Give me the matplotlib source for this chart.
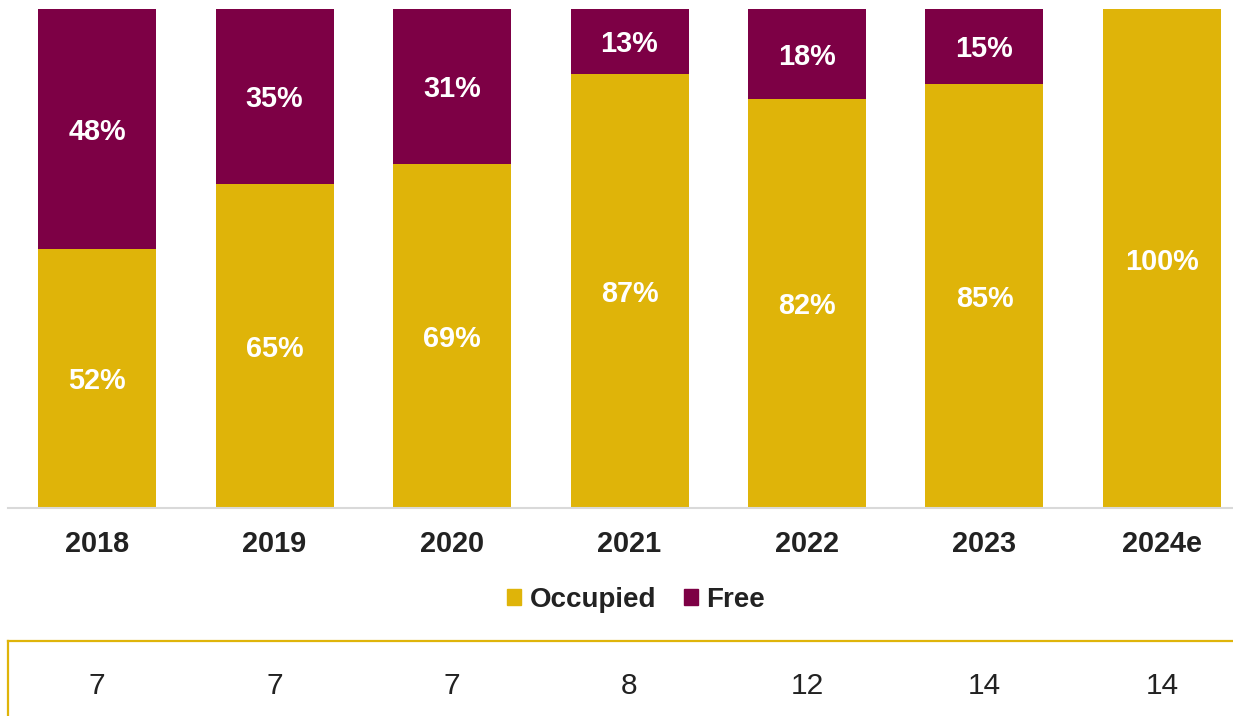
import matplotlib
matplotlib.use("Agg")
import matplotlib.pyplot as plt
from matplotlib.patches import Patch
from matplotlib.lines import Line2D

plt.rcParams['font.family'] = ['Liberation Sans', 'DejaVu Sans']

years = ["2018", "2019", "2020", "2021", "2022", "2023", "2024e"]
occupied = [52, 65, 69, 87, 82, 85, 100]
free = [48, 35, 31, 13, 18, 15, 0]
counts = [7, 7, 7, 8, 12, 14, 14]

GOLD = "#DFB409"
PLUM = "#7D0045"
TEXT = "#222222"

W, H = 1233, 716
fig = plt.figure(figsize=(W / 100, H / 100), dpi=100)

# plot area: bars from the baseline (y=508px) to 100% (y=9px)
ax = fig.add_axes([0, 1 - 508 / H, 1, 499 / H])
ax.set_xlim(-97 / 177.5, (W - 97) / 177.5)
ax.set_ylim(0, 100)

x = list(range(len(years)))
bw = 118 / 177.5
ax.bar(x, occupied, width=bw, color=GOLD, label="Occupied")
ax.bar(x, free, width=bw, bottom=occupied, color=PLUM, label="Free")

for i in x:
    ax.text(i, occupied[i] / 2, f"{occupied[i]}%", ha="center", va="center_baseline",
            color="white", fontsize=20.8, fontweight="bold")
    if free[i] > 0:
        ax.text(i, occupied[i] + free[i] / 2, f"{free[i]}%", ha="center",
                va="center_baseline", color="white", fontsize=20.8, fontweight="bold")

for s in ax.spines.values():
    s.set_visible(False)
ax.set_yticks([])
ax.set_xticks(x)
ax.set_xticklabels(years, fontsize=20.8, fontweight="bold", color=TEXT)
ax.tick_params(axis="x", length=0, pad=16)

# baseline
ax.plot([-0.5, 10], [0, 0], color="#D9D9D9", lw=1.5, clip_on=False)

# count row below the legend
tr = ax.get_xaxis_transform()
for i in x:
    ax.text(i, (508 - 682.5) / 499, str(counts[i]), transform=tr, ha="center",
            va="center_baseline", fontsize=21.5, color=TEXT)

fig.add_artist(Line2D([8 / W, 1], [1 - 641 / H, 1 - 641 / H], color=GOLD, lw=1.6))
fig.add_artist(Line2D([8 / W, 8 / W], [1 - 641 / H, 0], color=GOLD, lw=1.6))

handles = [Patch(color=GOLD, label="Occupied"), Patch(color=PLUM, label="Free")]
leg = fig.legend(handles=handles, loc="center", bbox_to_anchor=(636 / W, 1 - 600 / H),
                 ncol=2, frameon=False, handlelength=0.5, handleheight=0.5,
                 handletextpad=0.3, columnspacing=1.0, fontsize=20)
for t in leg.get_texts():
    t.set_fontweight("bold")
    t.set_color(TEXT)

fig.savefig("out.png", dpi=100)
